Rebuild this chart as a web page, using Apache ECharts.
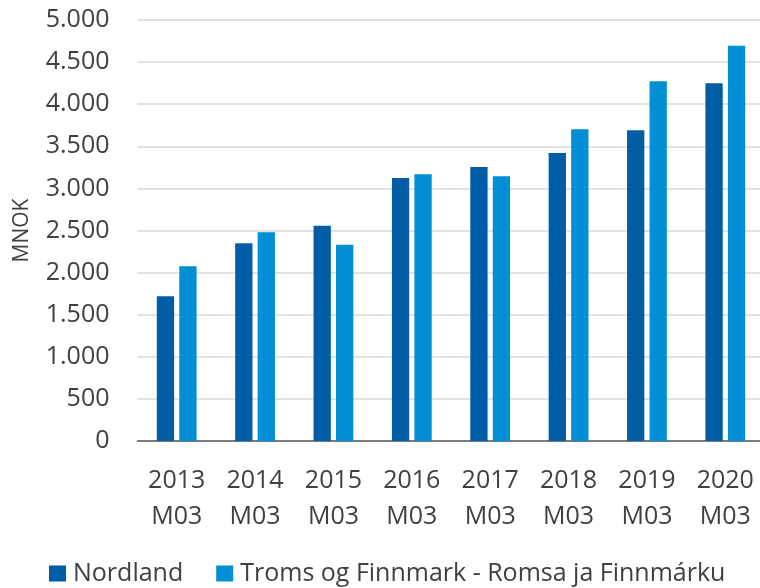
<!DOCTYPE html>
<html lang="no">
<head>
    <meta charset="utf-8">
    <title>MNOK</title>
    <script src="https://cdn.jsdelivr.net/npm/echarts@6/dist/echarts.min.js"></script>
    <style>
        html, body { margin: 0; padding: 0; background: #fff; }
        #chart { width: 760px; height: 588px; }
    </style>
</head>
<body>
<div id="chart"></div>
<script type="text/javascript">
    var categories = ['2013\nM03', '2014\nM03', '2015\nM03', '2016\nM03', '2017\nM03', '2018\nM03', '2019\nM03', '2020\nM03'];
    var seriesNames = ['Nordland', 'Troms og Finnmark - Romsa ja Finnmárku'];
    var nordland = [1718, 2348, 2557, 3124, 3254, 3420, 3690, 4248];
    var troms = [2075, 2478, 2332, 3167, 3143, 3702, 4272, 4695];
    var yTicks = { min: 0, max: 5000, interval: 500 };

    var font = '"Open Sans", "Noto Sans", sans-serif';
    var myChart = echarts.init(document.getElementById('chart'));
    var option = {
        animation: false,
        color: ['#005DA6', '#008ED5'],
        textStyle: { fontFamily: font },
        grid: {
            left: 137.5,
            top: 20,
            width: 627,
            height: 421,
            containLabel: false,
            outerBoundsMode: 'none'
        },
        legend: {
            data: seriesNames,
            left: 44,
            top: 556,
            icon: 'rect',
            itemWidth: 17,
            itemHeight: 16,
            itemGap: 33,
            textStyle: { fontFamily: font, fontSize: 25, color: '#404040', padding: [0, 0, 0, 2] }
        },
        xAxis: {
            type: 'category',
            data: categories,
            axisTick: { show: false },
            axisLine: { lineStyle: { color: '#595959', width: 1.5 } },
            axisLabel: {
                fontFamily: font,
                fontSize: 25,
                lineHeight: 36,
                color: '#404040',
                margin: 22,
                interval: 0
            }
        },
        yAxis: {
            type: 'value',
            min: yTicks.min,
            max: yTicks.max,
            interval: yTicks.interval,
            name: 'MNOK',
            nameLocation: 'middle',
            nameGap: 105,
            nameTextStyle: { fontFamily: font, fontSize: 21, color: '#404040' },
            axisLine: { show: false },
            axisTick: { show: false },
            splitLine: { lineStyle: { color: '#D9D9D9', width: 1.5 } },
            axisLabel: {
                fontFamily: font,
                fontSize: 25,
                color: '#404040',
                margin: 28,
                formatter: function (v) {
                    return String(v).replace(/\B(?=(\d{3})+(?!\d))/g, '.');
                }
            }
        },
        series: [
            {
                name: seriesNames[0],
                type: 'bar',
                barWidth: 17.3,
                barGap: '30%',
                data: nordland
            },
            {
                name: seriesNames[1],
                type: 'bar',
                barWidth: 17.3,
                barGap: '30%',
                data: troms
            }
        ]
    };
    myChart.setOption(option);
</script>
</body>
</html>
